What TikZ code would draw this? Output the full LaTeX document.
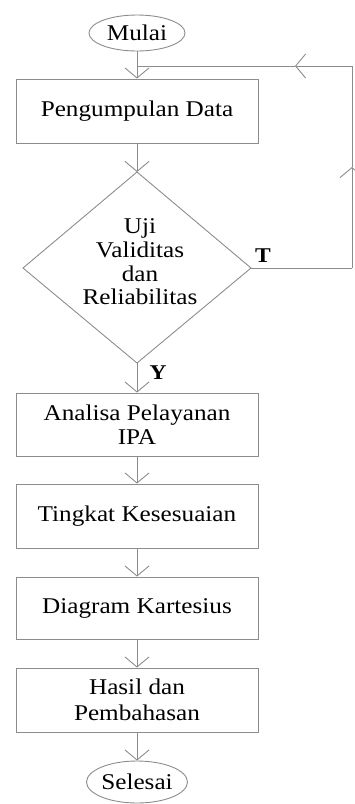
\documentclass[tikz,border=0pt]{standalone}
\usepackage{fontspec}
\setmainfont[FakeStretch=1.12]{Liberation Serif}
\usetikzlibrary{arrows.meta,shapes.geometric}
\definecolor{linecol}{RGB}{140,140,140}
\tikzset{
  every node/.style={font=\fontsize{22.5}{24}\selectfont, text=black},
  boxnode/.style={draw=linecol, line width=0.9pt, minimum width=242pt, inner sep=0pt, align=center},
  termnode/.style={draw=linecol, line width=0.9pt, ellipse, inner sep=0pt},
  conn/.style={draw=linecol, line width=0.9pt},
  barb/.tip={Straight Barb[length=10pt,width=24pt,line width=0.9pt]},
  lbl/.style={font=\fontsize{21}{24}\selectfont\bfseries},
}
\begin{document}
\begin{tikzpicture}[x=1pt,y=-1pt]
\useasboundingbox (0,0) rectangle (355,804);
\node[termnode, minimum width=96pt, minimum height=36pt] (start) at (137,33) {Mulai};
\node[boxnode, minimum height=64pt] (b1) at (137,111) {Pengumpulan Data};
\draw[conn, fill=none] (137,172) coordinate (dtop) -- (251,268) coordinate (dright) -- (137,363) coordinate (dbot) -- (23,268) coordinate (dleft) -- cycle;
\node[align=center, font=\fontsize{22.5}{23.7}\selectfont] (dtext) at (140,262) {Uji\\Validitas\\dan\\Reliabilitas};
\node[boxnode, minimum height=63pt] (b2) at (137,424.5) {Analisa Pelayanan\\IPA};
\node[boxnode, minimum height=64pt] (b3) at (137,516) {Tingkat Kesesuaian};
\node[boxnode, minimum height=62pt] (b4) at (137,608) {Diagram Kartesius};
\node[boxnode, minimum height=64pt, font=\fontsize{22.5}{26}\selectfont] (b5) at (137,700) {Hasil dan\\Pembahasan};
\node[termnode, minimum width=98pt, minimum height=42pt] (end) at (137,782) {Selesai};
\node[lbl] (tl) at (263,256) {T};
\node[lbl] (yl) at (158,373) {Y};
% main connectors
\draw[conn, -{barb}] (start.south) -- (b1.north);
\draw[conn, -{barb}] (b1.south) -- (dtop);
\draw[conn, -{barb}] (dbot) -- (b2.north);
\draw[conn, -{barb}] (b2.south) -- (b3.north);
\draw[conn, -{barb}] (b3.south) -- (b4.north);
\draw[conn, -{barb}] (b4.south) -- (b5.north);
\draw[conn, -{barb}] (b5.south) -- (end.north);
% feedback loop
\coordinate (fr) at (352,268);
\coordinate (ar1) at (352,167);
\coordinate (tr) at (352,66);
\coordinate (ar2) at (295,66);
\coordinate (jn) at (137,66);
\draw[conn] (dright) -- (fr);
\draw[conn, -{barb}] (fr) -- (ar1);
\draw[conn] (ar1) -- (tr);
\draw[conn, -{barb}] (tr) -- (ar2);
\draw[conn] (ar2) -- (jn);
\end{tikzpicture}
\end{document}
